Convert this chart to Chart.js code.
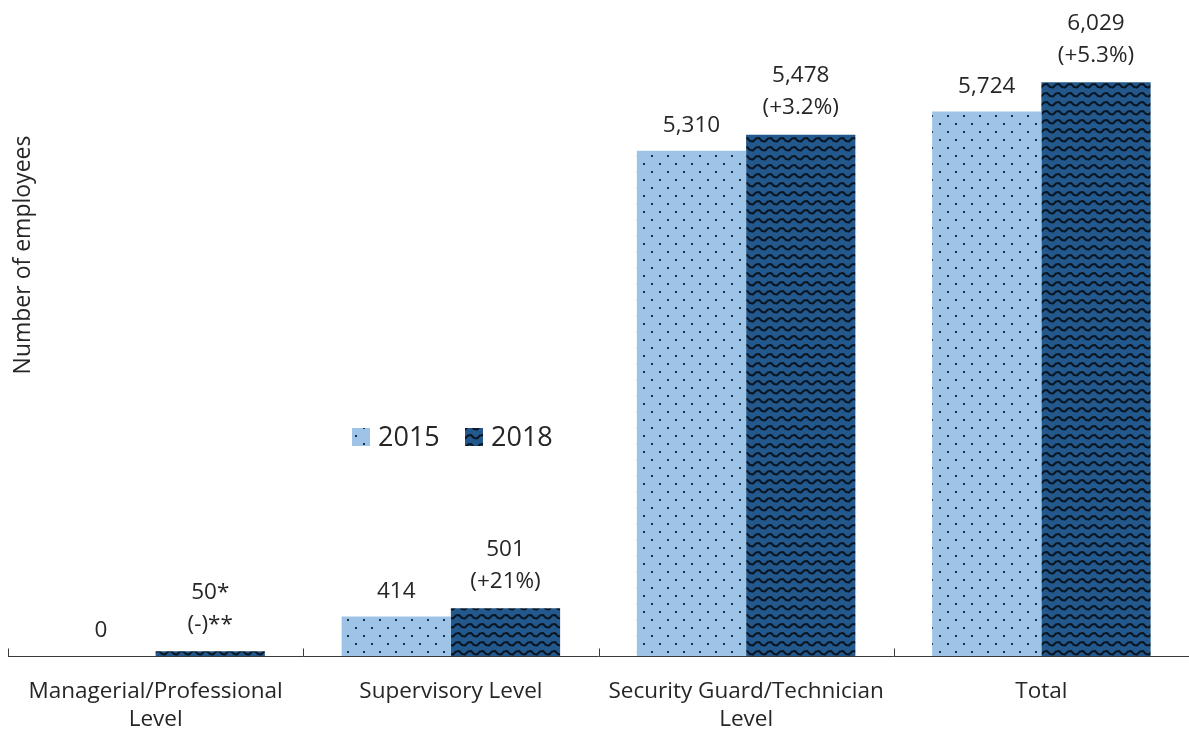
<!DOCTYPE html>
<html>
<head>
<meta charset="utf-8">
<script src="https://cdn.jsdelivr.net/npm/chart.js@4.4.1/dist/chart.umd.min.js"></script>
<style>
  html, body { margin: 0; padding: 0; background: #fff; }
  #wrap { width: 1189px; height: 733px; }
</style>
</head>
<body>
<div id="wrap"><canvas id="chart" width="1189" height="733"></canvas></div>
<script>
// data
const categories = [['Managerial/Professional', 'Level'], 'Supervisory Level', ['Security Guard/Technician', 'Level'], 'Total'];
const seriesNames = ['2015', '2018'];
const values2015 = [0, 414, 5310, 5724];
const values2018 = [50, 501, 5478, 6029];
const notes2018 = ['*', '', '', ''];
const change2018 = ['(-)**', '(+21%)', '(+3.2%)', '(+5.3%)'];
const yTitle = 'Number of employees';

const FONT = '"Open Sans", "Noto Sans", sans-serif';
const TXT = '#262626';

function dotPattern() {
  const c = document.createElement('canvas');
  c.width = 16; c.height = 16;
  const g = c.getContext('2d');
  g.fillStyle = '#9dc3e6';
  g.fillRect(0, 0, 16, 16);
  g.fillStyle = '#1c2e44';
  g.fillRect(3, 3, 2, 2);
  g.fillRect(11, 11, 2, 2);
  return g.createPattern(c, 'repeat');
}

function wavePattern() {
  const c = document.createElement('canvas');
  c.width = 12; c.height = 9;
  const g = c.getContext('2d');
  g.fillStyle = '#22588c';
  g.fillRect(0, 0, 12, 9);
  g.strokeStyle = '#0a1522';
  g.lineWidth = 2;
  g.lineJoin = 'round';
  g.beginPath();
  g.moveTo(-3, 6.5); g.lineTo(0, 3.5); g.lineTo(3, 3); g.lineTo(6, 6);
  g.lineTo(9, 6.5); g.lineTo(12, 3.5); g.lineTo(15, 3);
  g.stroke();
  return g.createPattern(c, 'repeat');
}

const fills = [dotPattern(), wavePattern()];

const dataLabels = {
  id: 'dataLabels',
  afterDatasetsDraw(chart) {
    const ctx = chart.ctx;
    ctx.save();
    ctx.font = '22.5px ' + FONT;
    ctx.fillStyle = TXT;
    ctx.textAlign = 'center';
    ctx.textBaseline = 'middle';
    chart.getDatasetMeta(0).data.forEach((bar, i) => {
      ctx.fillText(values2015[i].toLocaleString('en-US'), bar.x, bar.y - 25);
    });
    chart.getDatasetMeta(1).data.forEach((bar, i) => {
      ctx.fillText(change2018[i], bar.x, bar.y - 27);
      ctx.fillText(values2018[i].toLocaleString('en-US') + notes2018[i], bar.x, bar.y - 59);
    });
    ctx.restore();
  }
};

const axisAndExtras = {
  id: 'axisAndExtras',
  afterDraw(chart) {
    const ctx = chart.ctx;
    const x = chart.scales.x;
    const base = chart.chartArea.bottom + 0.5;
    ctx.save();
    ctx.strokeStyle = '#3a3a3a';
    ctx.lineWidth = 1;
    ctx.beginPath();
    ctx.moveTo(chart.chartArea.left, base);
    ctx.lineTo(chart.chartArea.right, base);
    for (let i = 0; i <= categories.length; i++) {
      const px = Math.round(x.getPixelForValue(i - 0.5)) + 0.5;
      ctx.moveTo(px, base);
      ctx.lineTo(px, base - 8);
    }
    ctx.stroke();

    // y title
    ctx.fillStyle = TXT;
    ctx.font = '23px ' + FONT;
    ctx.textAlign = 'center';
    ctx.textBaseline = 'middle';
    ctx.save();
    ctx.translate(23, 255);
    ctx.rotate(-Math.PI / 2);
    ctx.fillText(yTitle, 0, 0);
    ctx.restore();

    // legend
    ctx.font = '27px ' + FONT;
    ctx.textAlign = 'left';
    const lx = [352, 465];
    seriesNames.forEach((name, i) => {
      ctx.fillStyle = fills[i];
      ctx.fillRect(lx[i], 428, 18, 18);
      ctx.fillStyle = TXT;
      ctx.fillText(name, lx[i] + 26, 438);
    });
    ctx.restore();
  }
};

new Chart(document.getElementById('chart'), {
  type: 'bar',
  data: {
    labels: categories,
    datasets: [
      { label: seriesNames[0], data: values2015, backgroundColor: fills[0] },
      { label: seriesNames[1], data: values2018, backgroundColor: fills[1] }
    ]
  },
  options: {
    responsive: false,
    animation: false,
    events: [],
    layout: { padding: { left: 8, right: 0, top: 9, bottom: 0 } },
    datasets: { bar: { categoryPercentage: 0.74, barPercentage: 1.0 } },
    plugins: { legend: { display: false }, tooltip: { enabled: false } },
    scales: {
      x: {
        grid: { display: false, drawTicks: false },
        border: { display: false },
        ticks: { color: TXT, font: { family: FONT, size: 22.5, lineHeight: '28px' }, padding: 22, maxRotation: 0 },
        afterFit(s) { s.height = 77; }
      },
      y: { display: false, min: 0, max: 6800 }
    }
  },
  plugins: [dataLabels, axisAndExtras]
});
</script>
</body>
</html>
